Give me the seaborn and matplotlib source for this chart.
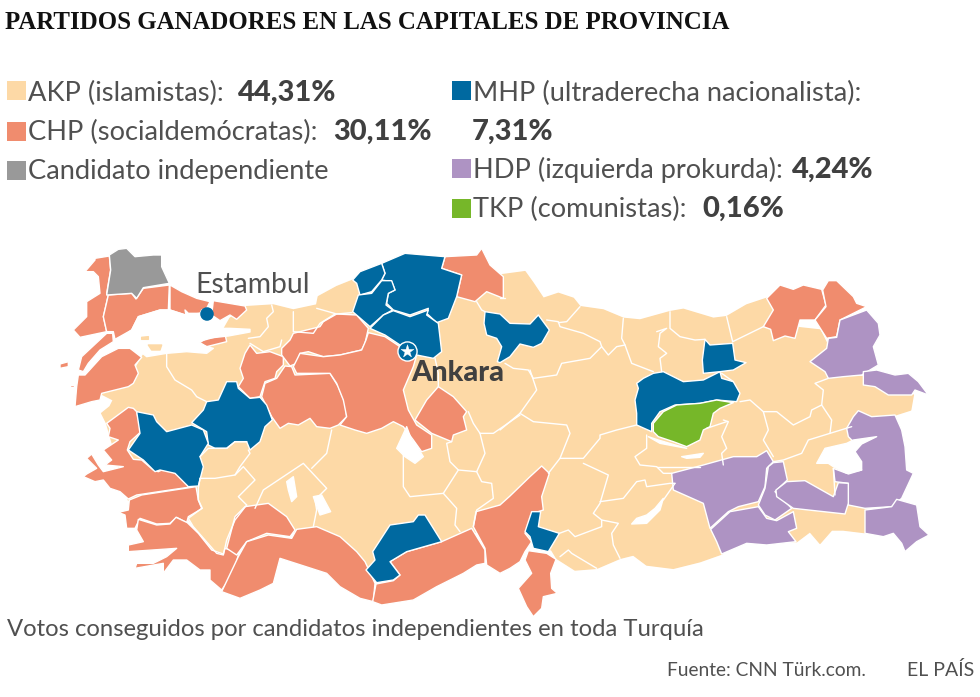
import matplotlib
matplotlib.use("Agg")
import matplotlib.pyplot as plt
import pandas as pd
import seaborn as sns

# province outlines. WEST shapes are in the frame of the
# left half of the map, EAST shapes in the frame of the right half
AKP_WEST = [(560,200),(640,195),(700,210),(770,195),(775,170),(830,140),(885,118),(900,165),(880,215),(1000,150),(1150,100),(1330,115),(1400,120),(1400,800),(1240,880),(1150,900),(920,985),(890,940),(700,875),(500,940),(470,945),(380,830),(205,780),(140,550),(125,520),(150,500),(160,480),(125,462),(230,380),(250,345),(320,340),(440,325),(500,305),(500,280),(490,270),(510,235)]
AKP_EAST = [(0,105),(75,95),(100,130),(130,175),(175,160),(220,175),(240,200),(310,210),(370,235),(420,240),(510,215),(550,208),(640,235),(680,230),(740,195),(800,175),(870,260),(960,270),(1000,350),(1000,410),(1095,410),(1165,465),(1240,465),(1232,510),(1185,525),(1100,600),(1100,810),(1095,878),(1030,870),(995,870),(960,910),(930,875),(890,905),(700,900),(665,942),(600,965),(520,985),(440,975),(400,945),(360,955),(290,985),(225,990),(170,955),(155,930),(80,900),(0,900)]
AKP_ISLANDS = [
    [(245,292),(265,290),(265,298),(245,298)],
    [(265,315),(305,315),(300,330),(275,330)],
]

CHP_WEST = [
    [(105,55),(148,48),(152,90),(140,160),(145,165),(130,230),(140,275),(60,292),(40,270),(80,230),(80,185),(120,160),(115,110),(100,95),(75,95),(105,60)],
    [(145,165),(215,160),(228,177),(250,145),(328,135),(325,210),(300,210),(235,230),(215,270),(165,298),(160,275),(140,275),(130,230)],
    [(330,135),(365,155),(410,175),(450,185),(440,205),(425,210),(420,220),(385,220),(375,210),(378,225),(330,210)],
    [(460,182),(555,198),(560,210),(530,238),(510,225),(480,242),(455,225)],
    [(140,280),(158,280),(160,305),(120,330),(85,370),(70,395),(55,390),(65,350)],
    [(55,405),(75,405),(125,350),(175,325),(210,325),(245,352),(225,375),(235,400),(220,430),(205,440),(125,460),(120,480),(95,485),(45,500),(50,440)],
    [(0,372),(25,365),(25,380),(0,385)],
    [(30,435),(42,435),(42,440),(30,440)],
    [(415,305),(495,283),(500,305),(440,320)],
    [(570,315),(590,340),(630,335),(670,350),(670,375),(650,395),(645,415),(615,425),(600,470),(570,475),(535,440),(550,415),(540,385),(555,340)],
    [(700,280),(780,260),(790,245),(830,222),(890,225),(925,265),(915,310),(905,330),(840,345),(790,350),(745,335),(720,340),(710,370),(690,378),(665,345),(665,325),(690,300)],
    [(675,378),(695,380),(705,405),(810,400),(835,440),(855,490),(860,530),(835,555),(810,565),(770,560),(750,535),(715,555),(685,550),(660,565),(635,530),(605,470),(615,430),(650,415)],
    [(925,278),(975,290),(1020,320),(1040,345),(1070,345),(1060,380),(1030,450),(1045,510),(1070,555),(1115,585),(1115,625),(1085,635),(1060,600),(1030,560),(1000,545),(965,565),(920,580),(885,570),(840,555),(860,530),(850,480),(830,430),(810,400),(710,400),(700,380),(720,340),(790,350),(840,345),(905,330),(918,300)],
    [(1135,440),(1180,470),(1220,515),(1210,530),(1220,570),(1180,585),(1175,605),(1115,580),(1065,540),(1100,480)],
    [(140,550),(205,502),(220,505),(230,515),(243,575),(210,605),(202,630),(220,658),(245,660),(280,690),(295,695),(315,685),(375,715),(385,742),(330,750),(230,765),(205,777),(180,755),(150,745),(130,720),(105,725),(70,710),(80,702),(110,685),(80,655),(95,642),(115,675),(130,695),(190,680),(135,675),(155,660),(130,630),(175,600),(145,590),(150,565)],
    [(208,780),(245,765),(330,752),(408,740),(415,780),(427,805),(385,830),(380,848),(350,832),(330,850),(290,852),(240,835),(225,865),(200,865),(195,825),(175,817),(205,810)],
    [(235,838),(290,855),(330,852),(348,832),(382,848),(415,880),(455,930),(490,942),(495,925),(530,935),(535,945),(520,1000),(485,1050),(450,1020),(450,990),(420,990),(380,960),(340,960),(310,1000),(310,970),(225,985),(230,970),(280,970),(320,950),(350,925),(205,935),(205,915),(250,905),(230,870)],
    [(555,800),(625,790),(680,830),(705,870),(690,890),(620,880),(560,905),(530,945),(500,925),(525,830)],
    [(485,1055),(535,950),(560,905),(625,885),(695,895),(710,868),(770,860),(840,890),(890,935),(915,965),(945,1030),(940,1085),(900,1075),(840,1040),(800,1000),(660,955),(640,1030),(600,1050),(540,1075)],
    [(948,1032),(1000,1022),(1020,1005),(990,965),(1040,935),(1145,905),(1235,865),(1275,930),(1275,970),(1250,975),(1210,1000),(1130,1040),(1060,1080),(965,1095),(938,1085)],
    [(1240,860),(1248,815),(1320,795),(1350,768),(1410,710),(1445,678),(1468,700),(1445,770),(1450,810),(1425,818),(1395,880),(1415,905),(1395,935),(1380,965),(1350,985),(1320,1000),(1280,975),(1275,925)],
    [(1155,50),(1250,45),(1265,25),(1290,75),(1330,110),(1330,175),(1280,155),(1245,185),(1190,170),(1205,105),(1145,85)],
]
CHP_EAST = [
    [(85,932),(140,940),(168,958),(152,1000),(155,1045),(172,1060),(130,1070),(125,1105),(100,1130),(80,1100),(55,1045),(95,1000),(75,960)],
    [(800,175),(840,135),(880,148),(910,135),(965,148),(978,195),(945,240),(900,240),(885,295),(855,288),(820,302),(812,268),(790,260),(820,210)],
    [(985,122),(1010,122),(1060,170),(1070,190),(1100,200),(1020,240),(1010,290),(980,295),(945,240),(978,200),(968,150)],
]
INDEP_WEST = [
    [(148,45),(175,28),(200,25),(225,50),(280,45),(305,45),(305,80),(328,130),(250,143),(230,175),(215,160),(140,165),(152,90)],
]
MHP_WEST = [
    [(965,70),(1035,40),(1155,50),(1145,85),(1205,105),(1190,170),(1165,235),(1130,248),(1100,220),(1105,205),(1050,225),(1000,210),(980,190),(985,160),(1005,150),(995,125),(965,120),(975,100)],
    [(878,120),(900,95),(965,70),(975,100),(965,120),(935,155),(900,165),(890,130)],
    [(895,165),(935,160),(965,122),(995,122),(1005,150),(985,160),(978,195),(998,210),(970,225),(930,260),(878,215)],
    [(930,265),(970,225),(1000,212),(1050,230),(1105,210),(1100,225),(1135,250),(1145,335),(1120,355),(1070,345),(1020,315),(975,285)],
    [(1275,215),(1320,222),(1350,250),(1410,252),(1435,225),(1468,270),(1445,310),(1420,322),(1380,312),(1350,350),(1320,368),(1312,365),(1325,320),(1310,295),(1280,285),(1272,250)],
    [(500,425),(530,425),(535,445),(570,475),(600,472),(620,495),(637,540),(615,560),(600,605),(570,630),(560,605),(525,605),(500,625),(465,625),(445,615),(440,575),(395,548),(430,510),(440,485),(475,480)],
    [(230,515),(280,525),(290,545),(320,575),(395,555),(430,570),(445,610),(420,650),(430,680),(415,738),(385,740),(345,700),(300,690),(285,695),(250,660),(205,630),(240,580)],
    [(1075,825),(1095,825),(1145,905),(1040,935),(990,965),(1020,1005),(1000,1020),(950,1028),(918,990),(945,960),(938,935),(990,855),(1060,845)],
]
MHP_EAST = [
    [(95,815),(122,815),(115,860),(178,880),(145,935),(100,925),(90,890),(75,875)],
    [(460,400),(490,395),(550,425),(610,420),(660,395),(665,415),(700,425),(720,460),(710,485),(650,480),(600,490),(525,495),(480,515),(455,550),(455,575),(410,555),(410,520),(405,480),(415,445),(410,430),(430,415)],
    [(615,298),(630,315),(698,310),(705,360),(738,368),(700,390),(660,395),(610,400),(607,360)],
]
HDP_EAST = [
    [(1100,210),(1135,250),(1140,285),(1120,320),(1135,375),(1085,405),(1030,410),(985,415),(975,395),(930,365),(980,325),(985,295),(1010,292),(1020,240)],
    [(1090,395),(1130,390),(1185,405),(1225,400),(1255,425),(1285,465),(1245,450),(1235,465),(1165,465),(1125,440),(1090,435)],
    [(1075,512),(1115,530),(1185,525),(1205,570),(1215,620),(1220,690),(1240,700),(1205,775),(1175,800),(1095,805),(1045,795),(1045,730),(1005,725),(1000,685),(1040,700),(1085,690),(1065,655),(1065,610),(1045,590),(1040,565),(1060,530)],
    [(515,700),(610,675),(700,650),(770,650),(800,632),(820,665),(800,685),(795,740),(775,785),(715,800),(685,815),(630,865),(610,790),(520,750)],
    [(820,668),(850,665),(862,720),(825,755),(875,805),(825,840),(795,825),(775,795),(795,745),(805,680)],
    [(860,725),(915,722),(1000,770),(1015,728),(1045,730),(1045,790),(1035,822),(880,805),(830,770),(828,750)],
    [(632,868),(690,815),(775,800),(800,835),(830,842),(880,815),(890,865),(865,875),(888,905),(800,915),(740,910),(665,942),(650,905)],
    [(1095,810),(1175,800),(1190,778),(1250,795),(1260,860),(1287,885),(1250,905),(1215,935),(1205,910),(1180,880),(1150,890),(1095,880)],
]
TKP_EAST = [
    [(700,488),(660,505),(640,520),(630,560),(610,570),(600,600),(560,620),(520,605),(475,590),(460,575),(460,550),(490,515),(530,495),(600,490),(650,480)],
]

# borders between AKP provinces
BORDERS_WEST = [
    [(635,195),(640,215),(620,235),(625,260),(600,290),(565,295)],
    [(700,215),(700,275),(760,280),(780,250),(825,222)],
    [(770,205),(830,222),(875,218)],
    [(665,300),(660,320),(610,335),(570,310)],
    [(320,340),(320,380),(345,420),(395,450),(410,470),(440,485)],
    [(565,630),(570,640),(540,680),(525,705),(465,715),(420,715)],
    [(420,650),(445,625),(500,625),(525,605),(560,605)],
    [(420,715),(415,745),(415,780),(425,805),(385,835),(400,860),(470,940),(490,945),(500,900),(525,840),(560,795)],
    [(525,705),(550,680),(585,720),(535,770),(560,795)],
    [(585,805),(610,750),(730,670),(800,745),(765,780),(770,810),(760,860)],
    [(755,685),(800,640),(815,570)],
    [(1030,640),(1030,740),(1050,770),(1150,760),(1195,690),(1170,665),(1160,610),(1175,605)],
    [(1195,690),(1250,695),(1275,640),(1260,580),(1240,550),(1225,515)],
    [(1260,580),(1300,580),(1380,525)],
    [(1250,695),(1265,725),(1295,730),(1300,775),(1250,810),(1240,860)],
    [(1150,760),(1190,805),(1185,855),(1200,875)],
    [(1135,440),(1135,400),(1125,355)],
    [(1250,185),(1265,210),(1275,215)],
]
BORDERS_EAST = [
    [(0,175),(15,175)],
    [(15,370),(40,385),(85,390),(100,415),(170,405),(185,370),(270,355),(305,320),(300,305),(250,280),(180,260),(175,245),(140,240)],
    [(240,200),(200,245),(175,248)],
    [(305,320),(325,345),(350,320),(375,315),(365,295),(370,235)],
    [(375,315),(395,370),(460,395)],
    [(90,390),(110,450),(60,520),(0,570)],
    [(60,520),(100,545),(200,555),(210,580),(180,655),(145,700)],
    [(180,655),(250,655),(300,595),(300,585),(350,570),(410,555)],
    [(250,670),(325,705),(300,790),(280,820),(305,840),(305,860),(225,890),(205,870),(178,880)],
    [(300,785),(370,775),(410,725),(435,720),(440,740),(510,730),(525,730)],
    [(305,840),(355,850),(335,880),(340,915),(360,955)],
    [(180,950),(205,930),(215,940),(290,985)],
    [(470,275),(500,265),(480,280),(475,320),(500,340),(480,355),(485,395)],
    [(510,215),(510,265),(540,290),(585,300),(615,298)],
    [(680,230),(698,305)],
    [(698,305),(790,260)],
    [(665,400),(700,425)],
    [(720,485),(750,480),(790,515),(830,515),(880,555),(930,530),(935,510),(965,495),(995,540),(990,580),(925,600),(905,640),(850,660),(820,665)],
    [(790,515),(805,570),(790,600),(820,650)],
    [(965,495),(970,450),(945,430),(985,415)],
    [(990,580),(1055,560)],
    [(670,540),(685,545),(665,590),(680,625),(665,640),(670,675)],
    [(620,565),(680,545)],
    [(440,585),(440,625),(405,650),(420,675),(470,680),(490,700),(515,700)],
    [(470,680),(600,680)],
    [(1000,685),(1005,765)],
    [(525,730),(490,780)],
]

# sea and lakes
WATER_WEST = [
    [(235,230),(300,210),(330,210),(375,225),(420,220),(460,240),(490,265),(510,265),(570,268),(570,276),(505,288),(440,295),(415,310),(440,320),(460,325),(440,340),(380,335),(320,340),(260,350),(235,330),(210,325),(175,325),(165,305),(215,270)],
    [(1010,625),(1040,560),(1055,600),(1065,610),(1090,650),(1065,670),(1035,650)],
    [(680,725),(700,710),(710,770),(695,785),(685,750)],
    [(760,770),(785,765),(812,815),(780,825)],
]
WATER_EAST = [
    [(950,670),(975,625),(1040,610),(1060,600),(1130,590),(1085,612),(1065,635),(1085,665),(1085,690),(1045,702),(1000,680),(985,670)],
    [(545,650),(610,640),(600,652),(560,655)],
    [(395,852),(410,835),(440,825),(465,805),(490,775),(480,810),(440,850)],
    [(445,590),(475,600),(560,625),(480,610)],
]

AKP_COLOR = "#FDD9A6"
CHP_COLOR = "#F08C6E"
INDEP_COLOR = "#999999"
MHP_COLOR = "#0069A0"
HDP_COLOR = "#AE93C3"
TKP_COLOR = "#76B729"
TEXT_COLOR = "#505050"
BOLD_COLOR = "#404040"

LEGEND_LABELS = ["AKP (islamistas): ", "CHP (socialdemócratas): ", "Candidato independiente",
                 "MHP (ultraderecha nacionalista):", "HDP (izquierda prokurda): ", "TKP (comunistas): "]
LEGEND_VALUES = ["44,31%", "30,11%", "", "", "4,24%", "0,16%"]
LEGEND_COLORS = [AKP_COLOR, CHP_COLOR, INDEP_COLOR, MHP_COLOR, HDP_COLOR, TKP_COLOR]

sns.set_theme(style="white")
plt.rcParams["font.family"] = ["Lato", "DejaVu Sans"]

fig, ax = plt.subplots(figsize=(9.8, 6.97), dpi=100)
ax.set_position([0, 0, 1, 1])
ax.set_xlim(0, 980)
ax.set_ylim(697, 0)
ax.axis("off")


def west(shape):
    return [(60 + x / 3, 240 + y / 3) for x, y in shape]


def east(shape):
    return [(500 + x / 3, 240 + y / 3) for x, y in shape]


def fill_shapes(shapes, frame, color, edge="white"):
    for shape in shapes:
        xs, ys = zip(*frame(shape))
        ax.fill(xs, ys, facecolor=color, edgecolor=edge, linewidth=1.0, joinstyle="round")


fill_shapes([AKP_WEST], west, AKP_COLOR, edge=AKP_COLOR)
fill_shapes([AKP_EAST], east, AKP_COLOR, edge=AKP_COLOR)
for shapes, frame in [(BORDERS_WEST, west), (BORDERS_EAST, east)]:
    for shape in shapes:
        xs, ys = zip(*frame(shape))
        ax.plot(xs, ys, color="white", linewidth=1.0, solid_joinstyle="round")

fill_shapes(CHP_WEST, west, CHP_COLOR)
fill_shapes(CHP_EAST, east, CHP_COLOR)
fill_shapes(INDEP_WEST, west, INDEP_COLOR)
fill_shapes(MHP_WEST, west, MHP_COLOR)
fill_shapes(MHP_EAST, east, MHP_COLOR)
fill_shapes(HDP_EAST, east, HDP_COLOR)
fill_shapes(TKP_EAST, east, TKP_COLOR)
fill_shapes(WATER_WEST, west, "white")
fill_shapes(WATER_EAST, east, "white")
fill_shapes(AKP_ISLANDS, west, AKP_COLOR, edge=AKP_COLOR)

# the two cities
cities = pd.DataFrame({"x": [207, 407], "y": [314, 351]})
sns.scatterplot(data=cities.iloc[:1], x="x", y="y", ax=ax, s=95, color=MHP_COLOR, edgecolor="none", legend=False)
sns.scatterplot(data=cities.iloc[1:], x="x", y="y", ax=ax, s=190, color=MHP_COLOR, edgecolor="white", linewidth=1.0, legend=False)
sns.scatterplot(data=cities.iloc[1:], x="x", y="y", ax=ax, s=95, marker="*", color="white", edgecolor="white", linewidth=0.3, legend=False)
ax.set_xlabel("")
ax.set_ylabel("")

ax.text(195, 293, "Estambul", fontsize=20.3, color=TEXT_COLOR, va="baseline")
ax.text(411, 381, "Ankara", fontsize=20.8, color=BOLD_COLOR, va="baseline", fontweight="black")

ax.text(5, 29, "PARTIDOS GANADORES EN LAS CAPITALES DE PROVINCIA", fontsize=17.95, fontweight="bold",
        family="Liberation Serif", color="#111111", va="baseline")

# legend, two columns
square_x = [7, 7, 7, 452, 452, 452]
square_y = [81, 122, 161, 81, 159, 199]
text_x = [28, 28, 28, 473, 473, 473]
text_y = [101, 140, 179, 101, 178, 217]
value_x = [238, 333, 0, 0, 792, 702]
for i, label in enumerate(LEGEND_LABELS):
    ax.add_patch(plt.Rectangle((square_x[i], square_y[i]), 19, 19, color=LEGEND_COLORS[i], lw=0))
    ax.text(text_x[i], text_y[i], label, fontsize=19.6, color=TEXT_COLOR, va="baseline")
    if LEGEND_VALUES[i]:
        ax.text(value_x[i], text_y[i], LEGEND_VALUES[i], fontsize=21, color=BOLD_COLOR, va="baseline", fontweight="black")
ax.text(472, 140, "7,31%", fontsize=21, color=BOLD_COLOR, va="baseline", fontweight="black")

ax.text(7, 636, "Votos conseguidos por candidatos independientes en toda Turquía", fontsize=17.2,
        color=TEXT_COLOR, va="baseline")
ax.text(667, 676, "Fuente: CNN Türk.com.", fontsize=13.8, color=TEXT_COLOR, va="baseline")
ax.text(907, 676, "EL PAÍS", fontsize=14, color=TEXT_COLOR, va="baseline")

fig.savefig("out.png", dpi=100, facecolor="white")
